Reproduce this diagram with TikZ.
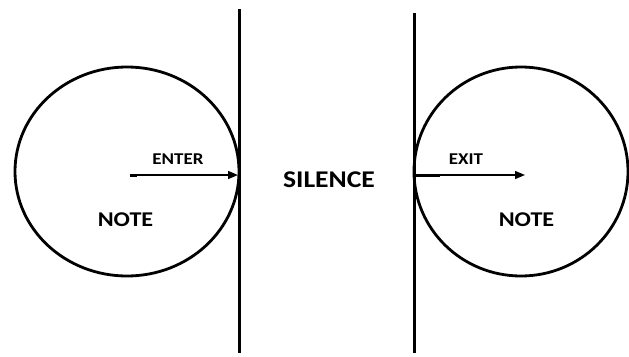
\documentclass[tikz,border=0pt]{standalone}
\usepackage{fontspec}
\setmainfont{Carlito}[FakeStretch=1.15]
\usetikzlibrary{arrows.meta}

\begin{document}
\begin{tikzpicture}[x=1pt,y=-1pt,
  bar/.style={line width=3pt},
  ring/.style={line width=2.8pt},
  move/.style={line width=1.4pt,-{Triangle[length=10pt,width=8pt]}},
  tag/.style={font=\fontsize{16.5}{18}\selectfont\bfseries,inner sep=0pt},
  word/.style={font=\fontsize{21}{24}\selectfont\bfseries,inner sep=0pt}]
  \useasboundingbox (0,0) rectangle (629,356);
  % the two bars
  \draw[bar] (239.5,9) -- (239.5,353);
  \draw[bar] (414,13) -- (414,353);
  % the two notes
  \draw[ring] (127,171.5) ellipse [x radius=112, y radius=104.5];
  \draw[ring] (521,171.5) ellipse [x radius=107, y radius=104.5];
  % enter
  \coordinate (inA) at (130,175);
  \coordinate (inB) at (137,175);
  \coordinate (inC) at (238,175);
  \draw[line width=3pt] (inA) -- (inB);
  \draw[move] (inB) -- (inC);
  \node[tag] (enter) at (178,159) {ENTER};
  % exit
  \coordinate (outA) at (416,175);
  \coordinate (outB) at (440,175);
  \coordinate (outC) at (525,175);
  \draw[line width=3pt] (outA) -- (outB);
  \draw[move] (outB) -- (outC);
  \node[tag] (exit) at (466,159) {EXIT};
  % labels
  \node[font=\fontsize{24}{28}\selectfont\bfseries,inner sep=0pt] (silence) at (329,180) {SILENCE};
  \node[word] (noteL) at (125.5,220) {NOTE};
  \node[word] (noteR) at (526.5,220) {NOTE};
\end{tikzpicture}
\end{document}
